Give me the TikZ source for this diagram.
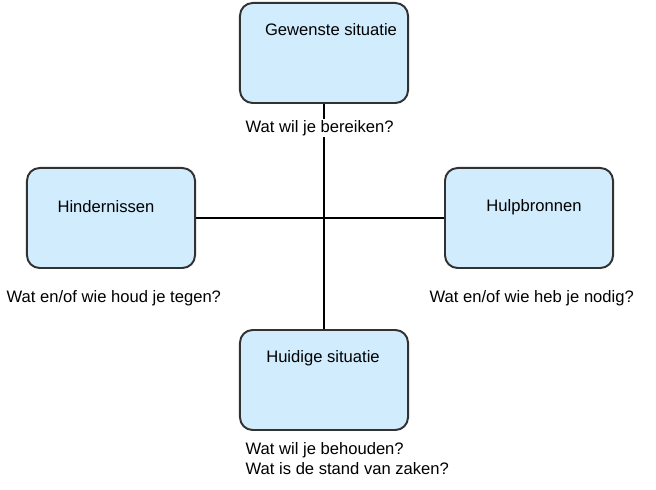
\documentclass[tikz,border=0pt]{standalone}
\usepackage{fontspec}
\setmainfont{Liberation Sans}
\usepackage{tikz}
\usetikzlibrary{positioning}
\usepackage{xcolor}
\definecolor{boxfill}{RGB}{208,236,253}
\definecolor{boxline}{RGB}{50,50,50}

\begin{document}
\begin{tikzpicture}[x=0.025cm, y=-0.025cm,
  box/.style={draw=boxline, fill=boxfill, line width=1.4pt, rounded corners=9pt,
    minimum width=4.2cm, minimum height=2.5cm, inner sep=0pt},
  title/.style={font=\fontsize{11.8}{13}\selectfont, inner sep=1pt},
  question/.style={font=\fontsize{11.8}{13}\selectfont, anchor=west, inner sep=1pt, fill=white},
  link/.style={line width=1.7pt, black}]
  \useasboundingbox (0,0) rectangle (656,490);
  % the four boxes
  \node[box] (gewenst) at (324,53) {};
  \node[box] (hinder) at (111,218) {};
  \node[box] (hulp) at (529,218) {};
  \node[box] (huidig) at (324,380) {};
  \node[title] (gewtxt) at (331,30) {Gewenste situatie};
  \node[title] (hintxt) at (106,207) {Hindernissen};
  \node[title] (hultxt) at (534,207) {Hulpbronnen};
  \node[title] (huitxt) at (323,358) {Huidige situatie};
  % the cross
  \draw[link] (gewenst) -- (huidig);
  \draw[link] (hinder) -- (hulp);
  % questions
  \node[question] (bereiken) at (244,128) {Wat wil je bereiken?};
  \node[question] (tegen) at (5,298) {Wat en/of wie houd je tegen?};
  \node[question] (nodig) at (428,298) {Wat en/of wie heb je nodig?};
  \node[question] (behouden) at (244,450) {Wat wil je behouden?};
  \node[question, below=1pt of behouden.south west, anchor=north west] (stand) {Wat is de stand van zaken?};
\end{tikzpicture}
\end{document}
